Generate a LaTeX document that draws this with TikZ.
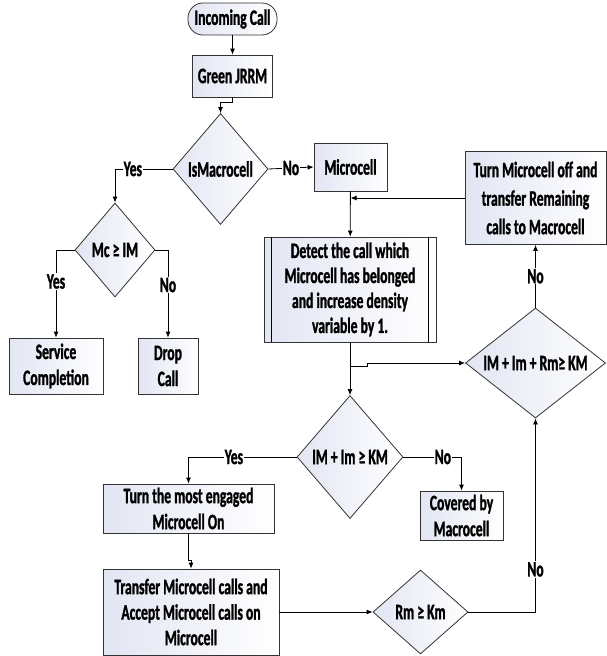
\documentclass[tikz,border=0pt]{standalone}
\usepackage{fontspec}
\setmainfont{Carlito}[FakeStretch=0.62,BoldFeatures={FakeBold=1.2}]
\usetikzlibrary{shapes.geometric,arrows.meta}
\definecolor{boxblue}{RGB}{226,230,243}

\begin{document}
\begin{tikzpicture}[x=1pt,y=-1pt,
  font=\fontsize{22}{26}\selectfont\bfseries,
  >={Latex[length=6pt,width=5pt]},
  box/.style={rectangle,draw=black!80,line width=0.8pt,left color=boxblue,right color=white,align=center,inner xsep=2pt,inner ysep=1pt},
  choice/.style={diamond,draw=black!80,line width=0.8pt,left color=boxblue,right color=white,inner sep=0pt},
  lbl/.style={fill=white,inner sep=1pt},
  line/.style={line width=0.8pt}]
\useasboundingbox (0,0) rectangle (606,656);

\node (IC) at (232.5,19) [box,rounded corners=15pt,minimum width=89pt,minimum height=32pt] {Incoming Call};
\node (GJ) at (232.5,76) [box,minimum width=80pt,minimum height=42pt] {Green JRRM};
\node (IsMac) at (220.5,169) [choice,aspect=0.86,minimum width=95pt,minimum height=111pt] {IsMacrocell};
\node (Mc) at (115,250) [choice,aspect=0.85,minimum width=80pt,minimum height=94pt] {Mc ≥ IM};
\node (SC) at (56,366) [box,minimum width=94pt,minimum height=56pt] {Service\\Completion};
\node (DC) at (168,366) [box,minimum width=60pt,minimum height=56pt] {Drop\\Call};
\node (Micro) at (350.5,167) [box,minimum width=73pt,minimum height=48pt] {Microcell};
\node (TMO) at (535.5,198) [box,minimum width=141pt,minimum height=93pt,font=\fontsize{22}{28.5}\selectfont\bfseries] {Turn Microcell off and\\transfer Remaining\\calls to Macrocell};
\node (Det) at (350,289.5) [box,minimum width=172pt,minimum height=105pt,font=\fontsize{22}{25}\selectfont\bfseries] {Detect the call which\\Microcell has belonged\\and increase density\\variable by 1.};
\draw [line] ([xshift=8pt]Det.north west) -- ([xshift=8pt]Det.south west);
\draw [line] ([xshift=-8pt]Det.north east) -- ([xshift=-8pt]Det.south east);
\node (IMR) at (535.5,363) [choice,aspect=1.27,minimum width=140pt,minimum height=110pt] {IM + Im + Rm≥ KM};
\node (IMI) at (350,457) [choice,aspect=0.86,minimum width=106pt,minimum height=123pt] {IM + Im ≥ KM};
\node (TB) at (188.5,508.5) [box,minimum width=171pt,minimum height=49pt] {Turn the most engaged\\Microcell On};
\node (CM) at (461.5,515.5) [box,minimum width=83pt,minimum height=49pt] {Covered by\\Macrocell};
\node (TF) at (191,612) [box,minimum width=176pt,minimum height=86pt,font=\fontsize{22}{25.5}\selectfont\bfseries] {Transfer Microcell calls and\\Accept Microcell calls on\\Microcell};
\node (Rm) at (420.5,612) [choice,aspect=1.13,minimum width=95pt,minimum height=84pt] {Rm ≥ Km};
\coordinate (split) at (350,366);

\draw [->,line] (IC) -- (GJ);
\draw [->,line] (GJ.south) -- ++(0,5) -| (IsMac.north);
\draw [->,line] (IsMac.west) -| node[lbl,pos=0.345] {Yes} (Mc.north);
\draw [->,line] (IsMac.east) -- node[lbl] {No} (Micro.west);
\draw [->,line] (Mc.west) -| node[lbl,pos=0.68] {Yes} (SC.north);
\draw [->,line] (Mc.east) -| node[lbl,pos=0.70] {No} (DC.north);
\draw [->,line] (Micro) -- (Det);
\draw [->,line] (TMO.west) -- (TMO.west -| Micro.south);
\draw [->,line] (Det) -- (IMI);
\draw [->,line] (split) -- ++(17,0) |- (IMR.west);
\draw [->,line] (IMR.north) -- node[lbl] {No} (TMO.south);
\draw [->,line] (IMI.west) -| node[lbl,pos=0.29] {Yes} (TB.north);
\draw [->,line] (IMI.east) -| node[lbl,pos=0.34] {No} (CM.north);
\draw [->,line] (TB.south) -- ++(0,27) -| (TF.north);
\draw [->,line] (TF.east) -- (Rm.west);
\draw [->,line] (Rm.east) -| node[lbl,pos=0.61] {No} (IMR.south);
\end{tikzpicture}
\end{document}
